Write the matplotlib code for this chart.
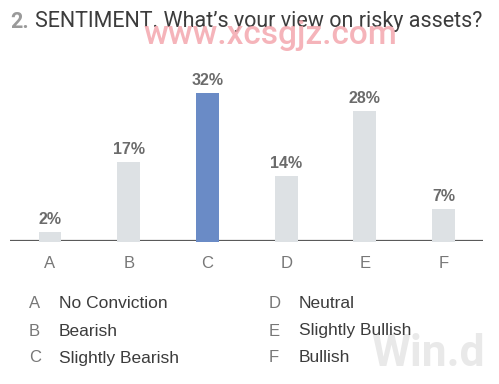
import matplotlib.pyplot as plt

plt.rcParams['font.family'] = ['Roboto', 'DejaVu Sans']

categories = ["A", "B", "C", "D", "E", "F"]
values = [2, 17, 32, 14, 28, 7]
labels = ["No Conviction", "Bearish", "Slightly Bearish",
          "Neutral", "Slightly Bullish", "Bullish"]
highlight = "C"

W, H = 499, 384
fig = plt.figure(figsize=(W / 100, H / 100), dpi=100)
fig.patch.set_facecolor('white')

arial = ['Liberation Sans', 'DejaVu Sans']

# axes placed in pixel terms: baseline at y=241, x from 10 to 483
ax = fig.add_axes([10 / W, (H - 241) / H, 473 / W, 162 / H])
ax.set_xlim(-0.508, 5.50)
ax.set_ylim(0, 35)
ax.axis('off')

x = list(range(len(categories)))
colors = ["#6a8bc6" if c == highlight else "#dde1e4" for c in categories]
ax.axhline(0, color="#5a5a5a", lw=1.6, zorder=1)
ax.bar(x, [v + 0.3 for v in values], bottom=-0.3, width=0.29, color=colors,
       zorder=2, clip_on=False)

for xi, v in zip(x, values):
    ax.text(xi, v + 1.1, f"{v}%", ha='center', va='bottom', fontsize=11.5,
            fontweight='bold', color="#6b6b6b", family=arial)
    ax.text(xi, -3.3, categories[xi], ha='center', va='top', fontsize=12,
            color="#777777", family=arial)

# title
fig.text(10 / W, 1 - 22 / H, "2.", fontsize=15.5, fontweight='bold',
         color="#9a9a9a", va='center', ha='left')
fig.text(35 / W, 1 - 22 / H, "SENTIMENT. What\u2019s your view on risky assets?",
         fontsize=15.5, color="#3c3c3c", va='center', ha='left')

# legend listing
rows = [304, 331, 358]
for i, (c, lab) in enumerate(zip(categories, labels)):
    col = i // 3
    y = 1 - rows[i % 3] / H
    lx = 29 if col == 0 else 269
    tx = 59 if col == 0 else 299
    fig.text(lx / W, y, c, fontsize=12, color="#777777", va='center',
             family=arial)
    fig.text(tx / W, y, lab, fontsize=12.5, color="#3c3c3c", va='center',
             family=arial)

# watermarks
fig.text(270 / W, 1 - 35 / H, "www.xcsgjz.com", fontsize=24, color="#f4a7ae",
         alpha=0.85, ha='center', va='center', fontweight='medium')
fig.text(428 / W, 1 - 354 / H, "Win.d", fontsize=32, color="#e9e9e9",
         ha='center', va='center', fontweight='bold', zorder=0)

fig.savefig("out.png", dpi=100, facecolor='white')
